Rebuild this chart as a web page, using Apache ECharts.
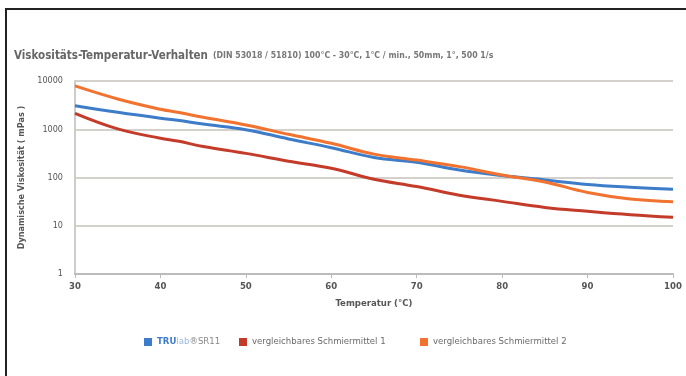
<!DOCTYPE html>
<html><head><meta charset="utf-8">
<script src="https://cdn.jsdelivr.net/npm/echarts@6/dist/echarts.min.js"></script>
<style>html,body{margin:0;padding:0;background:#fff}#c{width:686px;height:376px}</style>
</head><body><div id="c"></div>
<script>
const temps = [30, 35, 40, 42, 45, 50, 55, 60, 65, 70, 75, 80, 85, 90, 95, 100];
const truLab = [3080, 2240, 1690, 1540, 1280, 980, 630, 415, 260, 207, 143, 110, 89, 72, 63, 57];
const mittel1 = [2140, 1020, 650, 570, 440, 316, 218, 155, 92, 65, 43, 32, 24, 20, 17, 15];
const mittel2 = [7900, 4240, 2590, 2250, 1770, 1225, 785, 512, 305, 230, 168, 113, 81, 49, 36, 31.6];
const yTicks = [1, 10, 100, 1000, 10000];
const seriesNames = ['TRUlab®SR11', 'vergleichbares Schmiermittel 1', 'vergleichbares Schmiermittel 2'];
const colors = ['#3d7cc9', '#c43b2a', '#f2722f'];

const font = '"DejaVu Sans Condensed","Liberation Sans Narrow",sans-serif';
const chart = echarts.init(document.getElementById('c'));
const mk = (vals) => temps.map((t, i) => [t, vals[i]]);
const legendText = {
  fontFamily: font, fontSize: 9.5, color: '#6a6a6a',
  rich: {
    t: { fontFamily: font, fontSize: 9.5, fontWeight: 'bold', color: '#3d7cc9' },
    l: { fontFamily: font, fontSize: 9.5, color: '#9ab8e0' },
    r: { fontFamily: font, fontSize: 9.5, color: '#888' }
  }
};
const legendLefts = [139, 234, 415];
chart.setOption({
  backgroundColor: '#fff',
  animation: false,
  color: colors,
  title: {
    text: '{b|Viskositäts-Temperatur-Verhalten} {s|(DIN 53018 / 51810) 100°C - 30°C, 1°C / min., 50mm, 1°, 500 1/s}',
    left: 9, top: 42,
    textStyle: {
      rich: {
        b: { fontFamily: font, fontWeight: 'bold', fontSize: 11.5, color: '#666' },
        s: { fontFamily: font, fontSize: 8.7, color: '#777' }
      }
    }
  },
  graphic: [
    { type: 'polyline', shape: { points: [[6, 376], [6, 9], [686, 9]] }, style: { stroke: '#222', lineWidth: 2, fill: null } }
  ],
  legend: seriesNames.map((n, i) => ({
    bottom: 24, left: legendLefts[i], itemWidth: 8, itemHeight: 8, icon: 'rect',
    data: [n],
    formatter: (nm) => nm === seriesNames[0] ? '{t|TRU}{l|lab}{r|®SR11}' : nm,
    textStyle: legendText
  })),
  grid: { left: 75, right: 13, top: 81, bottom: 102 },
  xAxis: {
    type: 'value', min: 30, max: 100, interval: 10,
    name: 'Temperatur (°C)', nameLocation: 'middle', nameGap: 25,
    nameTextStyle: { fontFamily: font, fontWeight: 'bold', fontSize: 9.5, color: '#555' },
    axisLine: { lineStyle: { color: '#bbb', width: 2 } },
    axisTick: { show: true, length: 4, lineStyle: { color: '#bbb' } },
    axisLabel: { fontFamily: font, fontWeight: 'bold', fontSize: 9.5, color: '#555', margin: 8 },
    splitLine: { show: false }
  },
  yAxis: {
    type: 'log', logBase: 10, min: yTicks[0], max: yTicks[yTicks.length - 1],
    name: 'Dynamische Viskosität ( mPas )', nameLocation: 'middle', nameGap: 44,
    nameTextStyle: { fontFamily: font, fontWeight: 'bold', fontSize: 9, color: '#555' },
    axisLine: { show: true, lineStyle: { color: '#ccc', width: 2 } },
    axisTick: { show: false },
    axisLabel: { fontFamily: font, fontSize: 9, color: '#555', margin: 12, formatter: (v) => String(Math.round(v)) },
    splitLine: { lineStyle: { color: '#d4d0cc', width: 2 } }
  },
  series: [
    { name: seriesNames[0], type: 'line', smooth: 0.4, showSymbol: false, lineStyle: { width: 3 }, data: mk(truLab) },
    { name: seriesNames[1], type: 'line', smooth: 0.4, showSymbol: false, lineStyle: { width: 3 }, data: mk(mittel1) },
    { name: seriesNames[2], type: 'line', smooth: 0.4, showSymbol: false, lineStyle: { width: 3 }, data: mk(mittel2) }
  ]
});
</script></body></html>
